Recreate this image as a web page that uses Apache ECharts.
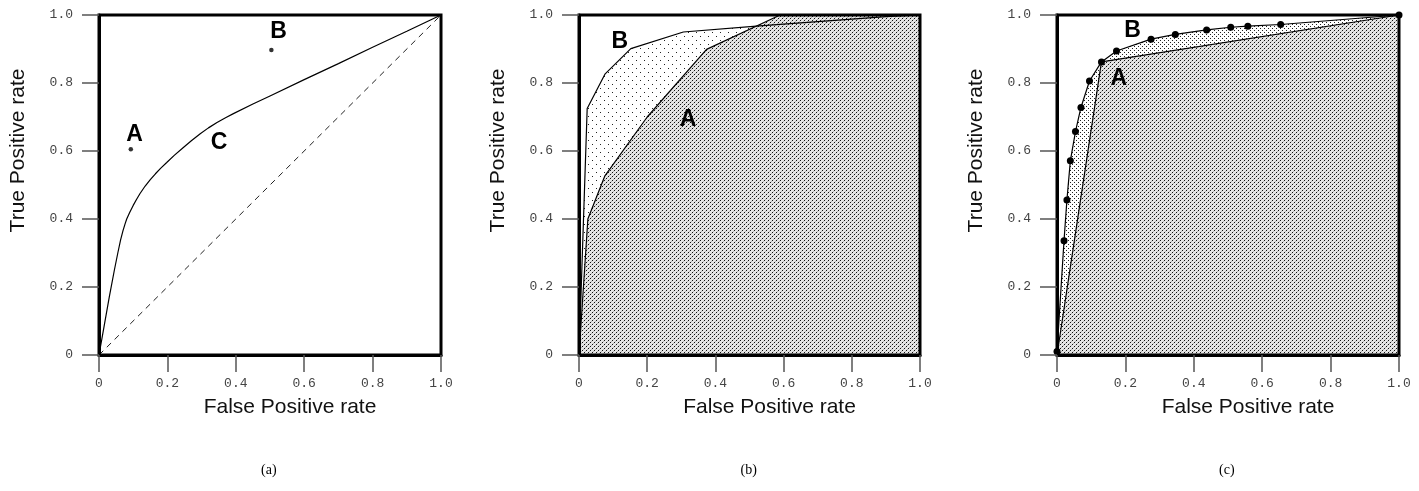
<!DOCTYPE html>
<html lang="en">
<head>
  <meta charset="UTF-8">
  <title>ROC</title>
  <script src="https://cdn.jsdelivr.net/npm/echarts@6/dist/echarts.min.js"></script>
  <style>
    html,body{margin:0;padding:0;background:#fff;}
    #main{width:1419px;height:491px;}
  </style>
</head>
<body>
<div id="main"></div>
<script>
  // (a) one curve C, the chance diagonal and two single points
  var curveC = [[0,0],[0.015,0.085],[0.03,0.17],[0.045,0.25],[0.055,0.3],[0.063,0.338],[0.07,0.365],[0.076,0.385],[0.081,0.4],[0.09,0.42],[0.1,0.44],[0.11,0.458],[0.12,0.475],[0.135,0.497],[0.15,0.516],[0.165,0.533],[0.18,0.549],[0.198,0.566],[0.22,0.587],[0.245,0.609],[0.27,0.63],[0.296,0.651],[0.32,0.668],[0.345,0.684],[0.37,0.698],[0.393,0.71],[0.45,0.738],[0.5,0.762],[0.6,0.81],[0.7,0.857],[0.8,0.905],[0.9,0.952],[1,1]];
  var chance = [[0,0],[1,1]];
  var pointsA = [[0.093,0.605],[0.504,0.897]];
  var namesA = ['A','B','C'];
  var namePosA = [[0.104,0.648],[0.525,0.95],[0.351,0.624]];

  // (b) two ROC curves
  var rocB_A = [[0,0],[0.026,0.40],[0.076,0.527],[0.2,0.70],[0.374,0.899],[0.59,1.0],[1,1]];
  var rocB_B = [[0,0],[0.024,0.725],[0.076,0.826],[0.152,0.901],[0.306,0.95],[0.52,0.967],[0.9,0.995],[1,1]];
  var namesB = ['A','B'];
  var namePosB = [[0.32,0.693],[0.12,0.921]];

  // (c) two-point classifier A vs. scored classifier B
  var rocC_A = [[0,0],[0.13,0.862],[1,1]];
  var rocC_B = [[0,0.01],[0.0205,0.336],[0.029,0.456],[0.039,0.571],[0.054,0.657],[0.07,0.728],[0.095,0.806],[0.13,0.862],[0.174,0.894],[0.275,0.929],[0.346,0.943],[0.4375,0.956],[0.508,0.964],[0.558,0.967],[0.654,0.972],[1,1]];
  var namesC = ['A','B'];
  var namePosC = [[0.181,0.814],[0.221,0.954]];

  var panelTags = ['(a)', '(b)', '(c)'];

  function pattern(size, bg, dots){
    var c = document.createElement('canvas');
    c.width = size; c.height = size;
    var ctx = c.getContext('2d');
    ctx.fillStyle = bg;
    ctx.fillRect(0,0,size,size);
    dots.forEach(function(d){
      ctx.fillStyle = d[2];
      ctx.fillRect(d[0], d[1], 1, 1);
    });
    return {image: c, repeat: 'repeat'};
  }
  var dense = pattern(4, '#e6e6e6', [[0,0,'#111'],[2,2,'#111'],[1,3,'#b4b4b4'],[3,1,'#b4b4b4']]);
  var sparse = pattern(8, '#fff', [[0,0,'#222'],[4,4,'#222']]);
  var medium = pattern(4, '#fff', [[0,0,'#222'],[2,2,'#222']]);

  var grids = [
    {left:99, top:15, width:342, height:340},
    {left:579, top:15, width:341, height:340},
    {left:1057, top:15, width:342, height:340}
  ];
  grids.forEach(function(g){ g.show = true; g.borderColor = '#000'; g.borderWidth = 3; g.z = 3; });

  function fmt(v){ return v === 0 ? '0' : v.toFixed(1); }

  function xAx(i){
    return {
      gridIndex:i, type:'value', min:0, max:1, interval:0.2, z:4,
      name:'False Positive rate', nameLocation:'middle', nameGap:42,
      nameTextStyle:{fontFamily:'Liberation Sans', fontSize:21, color:'#111', padding:[0,0,0,40]},
      axisLine:{show:true, onZero:false, lineStyle:{color:'#000', width:3}},
      axisTick:{show:true, length:17, lineStyle:{color:'#555', width:1.5}},
      axisLabel:{fontFamily:'Liberation Mono', fontSize:13, color:'#444', margin:22, formatter:fmt},
      splitLine:{show:false}
    };
  }
  function yAx(i){
    return {
      gridIndex:i, type:'value', min:0, max:1, interval:0.2, z:4,
      name:'True Positive rate', nameLocation:'middle', nameGap:70,
      nameTextStyle:{fontFamily:'Liberation Sans', fontSize:21, color:'#111', padding:[0,0,0,69]},
      axisLine:{show:true, onZero:false, lineStyle:{color:'#000', width:3}},
      axisTick:{show:true, length:17, lineStyle:{color:'#555', width:1.5}},
      axisLabel:{fontFamily:'Liberation Mono', fontSize:13, color:'#444', margin:26, formatter:fmt},
      splitLine:{show:false}
    };
  }

  function fill(i, data, pat){
    return {type:'line', xAxisIndex:i, yAxisIndex:i, data:data, z:1, silent:true,
      showSymbol:false, lineStyle:{width:0}, areaStyle:{color:pat, opacity:1}};
  }
  function line(i, data, extra){
    var s = {type:'line', xAxisIndex:i, yAxisIndex:i, data:data, z:2,
      showSymbol:false, lineStyle:{color:'#000', width:1.2}};
    for (var k in extra) s[k] = extra[k];
    return s;
  }
  function tags(i, names, pos){
    return {type:'scatter', xAxisIndex:i, yAxisIndex:i, z:5, symbolSize:0,
      itemStyle:{color:'#000'},
      data: names.map(function(n, j){ return {name:n, value:pos[j]}; }),
      label:{show:true, position:'inside', formatter:'{b}', fontFamily:'Liberation Sans',
        fontWeight:'bold', fontSize:23, color:'#000', textBorderWidth:0, opacity:1}};
  }

  var chart = echarts.init(document.getElementById('main'));
  chart.setOption({
    animation:false,
    backgroundColor:'#fff',
    grid:grids,
    xAxis:[xAx(0), xAx(1), xAx(2)],
    yAxis:[yAx(0), yAx(1), yAx(2)],
    graphic: panelTags.map(function(t, i){
      var g = grids[i];
      return {type:'text', left:g.left + g.width/2 - 9, top:463,
        style:{text:t, font:'14px "Liberation Serif"', fill:'#000'}};
    }),
    series:[
      line(0, curveC),
      line(0, chance, {lineStyle:{color:'#222', width:1, type:[6,5]}}),
      {type:'scatter', xAxisIndex:0, yAxisIndex:0, z:3, data:pointsA, symbolSize:4.5, itemStyle:{color:'#000'}},
      tags(0, namesA, namePosA),

      fill(1, rocB_B, sparse),
      fill(1, rocB_A, dense),
      line(1, rocB_B),
      line(1, rocB_A),
      tags(1, namesB, namePosB),

      fill(2, rocC_B, medium),
      fill(2, rocC_A, dense),
      line(2, rocC_A),
      line(2, rocC_B, {showSymbol:true, symbol:'circle', symbolSize:7, itemStyle:{color:'#000'}}),
      tags(2, namesC, namePosC)
    ]
  });
</script>
</body>
</html>
